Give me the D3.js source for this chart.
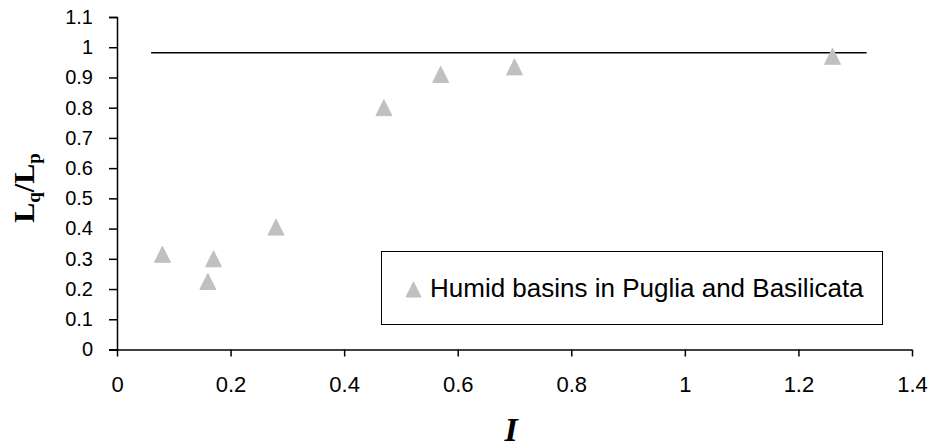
<!DOCTYPE html>
<html><head><meta charset="utf-8">
<script src="https://cdn.jsdelivr.net/npm/d3@7/dist/d3.min.js"></script>
<style>body{margin:0;background:#fff}svg{display:block}</style>
</head><body>
<svg id="c" width="930" height="448"></svg>
<script>
const xValues = [0.08, 0.16, 0.17, 0.28, 0.47, 0.57, 0.70, 1.26];
const yValues = [0.315, 0.225, 0.30, 0.405, 0.80, 0.91, 0.935, 0.97];
const refLineX = [0.06, 1.32];
const refLineY = [0.982, 0.982];
const xTicks = [0, 0.2, 0.4, 0.6, 0.8, 1, 1.2, 1.4];
const yTicks = [0, 0.1, 0.2, 0.3, 0.4, 0.5, 0.6, 0.7, 0.8, 0.9, 1, 1.1];
const seriesName = "Humid basins in Puglia and Basilicata";

const svg = d3.select("#c");
const L = 117, R = 912, T = 17, B = 349.5;
const x = d3.scaleLinear().domain([0, 1.4]).range([L, R]);
const y = d3.scaleLinear().domain([0, 1.1]).range([B, T]);

const tri = { draw(ctx, size) { const h = Math.sqrt(size) / 2;
  ctx.moveTo(0, -h); ctx.lineTo(h, h); ctx.lineTo(-h, h); ctx.closePath(); } };

const sans = "'Liberation Sans', Arial, sans-serif";
const serif = "'Liberation Serif', 'Times New Roman', serif";

// axes
const xAxis = d3.axisBottom(x).tickValues(xTicks).tickSize(7).tickPadding(20)
  .tickFormat(d => String(d));
const gx = svg.append("g").attr("transform", `translate(0,${B})`).call(xAxis);
const yAxis = d3.axisLeft(y).tickValues(yTicks).tickSize(8).tickPadding(16)
  .tickFormat(d => String(d));
const gy = svg.append("g").attr("transform", `translate(${L},0)`).call(yAxis);
[gx, gy].forEach(g => {
  g.selectAll(".domain").attr("stroke", "#000").attr("stroke-width", 1.5);
  g.selectAll(".tick line").attr("stroke", "#000").attr("stroke-width", 1.5);
  g.selectAll(".tick text").attr("font-family", sans).attr("fill", "#000");
});
gx.selectAll(".tick text").attr("font-size", 22);
gy.selectAll(".tick text").attr("font-size", 20);
gx.select(".domain").attr("d", `M${L - 8},0.5H${R}`);

// reference line
svg.append("line")
  .attr("x1", x(refLineX[0])).attr("x2", x(refLineX[1]))
  .attr("y1", y(refLineY[0])).attr("y2", y(refLineY[1]))
  .attr("stroke", "#000").attr("stroke-width", 1.5);

// points
svg.append("g").selectAll("path").data(xValues).join("path")
  .attr("transform", (d, i) => `translate(${x(d)},${y(yValues[i])})`)
  .attr("d", d3.symbol().type(tri).size(256))
  .attr("fill", "#c0c0c0").attr("stroke", "#c0c0c0").attr("stroke-width", 1).attr("stroke-linejoin", "round");

// legend
const lg = svg.append("g");
lg.append("rect").attr("x", 381.5).attr("y", 251.5).attr("width", 501).attr("height", 73)
  .attr("fill", "#fff").attr("stroke", "#000").attr("stroke-width", 1);
lg.append("path").attr("transform", "translate(413.5,289.5)")
  .attr("d", d3.symbol().type(tri).size(225))
  .attr("fill", "#c0c0c0").attr("stroke", "#c0c0c0").attr("stroke-linejoin", "round");
lg.append("text").attr("x", 430).attr("y", 297)
  .attr("font-family", sans).attr("font-size", 26)
  .text(seriesName);

// axis titles
svg.append("text").attr("x", 511).attr("y", 441).attr("text-anchor", "middle")
  .attr("font-family", serif)
  .attr("font-size", 34).attr("font-weight", "bold").attr("font-style", "italic").text("I");

const yt = svg.append("text").attr("transform", "translate(34,188) rotate(-90)")
  .attr("text-anchor", "middle")
  .attr("font-family", serif)
  .attr("font-size", 30).attr("font-weight", "bold");
yt.append("tspan").text("L");
yt.append("tspan").attr("font-size", 19).attr("dy", 6).text("q");
yt.append("tspan").attr("dy", -6).text("/L");
yt.append("tspan").attr("font-size", 19).attr("dy", 6).text("p");
</script>
</body></html>
